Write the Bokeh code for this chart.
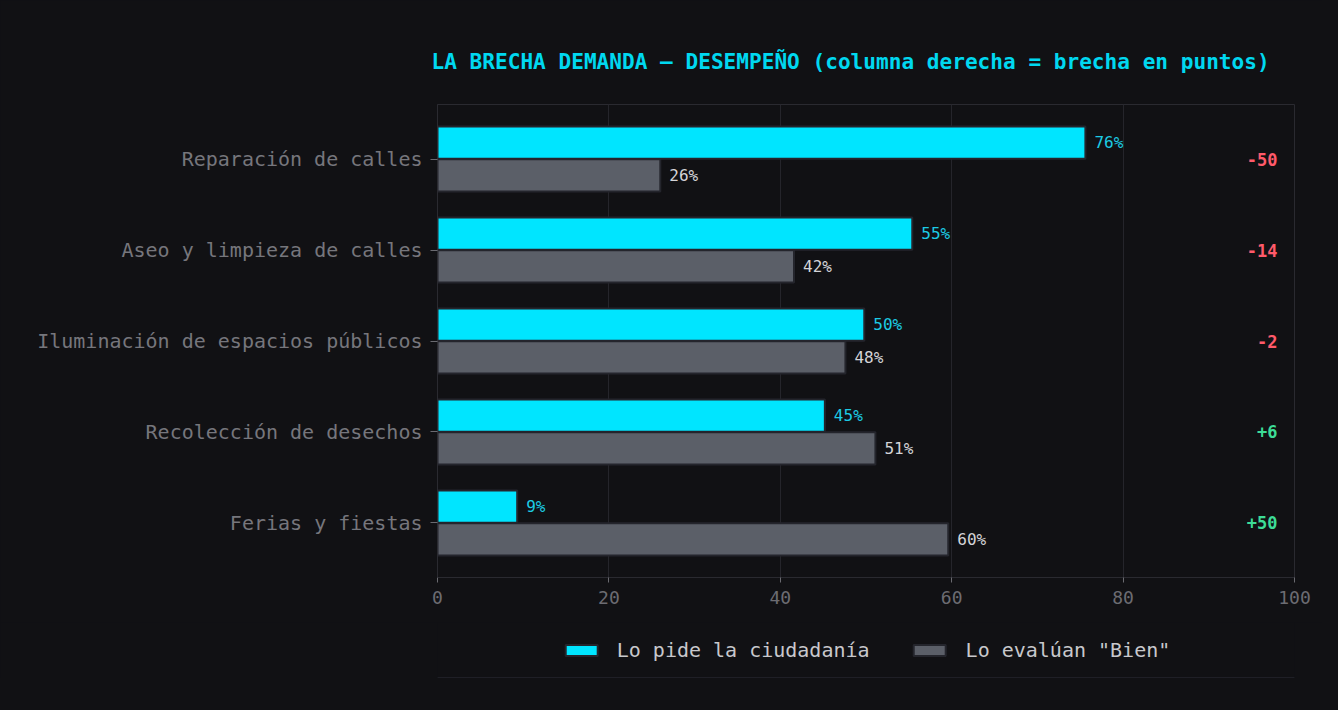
from bokeh.plotting import figure
from bokeh.layouts import column
from bokeh.models import ColumnDataSource, Range1d, FixedTicker, Legend, LegendItem
from bokeh.core.properties import value
from bokeh.embed import file_html
from bokeh.resources import INLINE

# ---- data ----
categories = ["Reparación de calles", "Aseo y limpieza de calles",
              "Iluminación de espacios públicos", "Recolección de desechos",
              "Ferias y fiestas"]
demand = [75.6, 55.4, 49.8, 45.2, 9.3]        # Lo pide la ciudadanía (%)
rated_good = [26.0, 41.6, 47.6, 51.1, 59.6]   # Lo evalúan "Bien" (%)
x_ticks = [0, 20, 40, 60, 80, 100]
series_names = ["Lo pide la ciudadanía", 'Lo evalúan "Bien"']

BG = "#111114"
CYAN = "#00e5ff"
GREY = "#5b5f68"
EDGE = "#24252c"
MONO = "DejaVu Sans Mono"

ys = list(range(len(categories)))
gaps = [g - d for g, d in zip(rated_good, demand)]
gap_text = [("+%d" % round(v)) if v > 0 else ("%d" % round(v)) for v in gaps]
gap_color = ["#3ddc97" if v > 0 else "#ff5a6a" for v in gaps]

src_d = ColumnDataSource(dict(y=[y - 0.18 for y in ys], v=demand,
                              lab=["%d%%" % round(v) for v in demand]))
src_g = ColumnDataSource(dict(y=[y + 0.18 for y in ys], v=rated_good,
                              lab=["%d%%" % round(v) for v in rated_good]))
src_gap = ColumnDataSource(dict(y=ys, t=gap_text, c=gap_color, x=[98] * len(ys)))

p = figure(frame_width=857, frame_height=473,
           x_range=Range1d(0, 100), y_range=Range1d(4.6, -0.6),
           output_backend="svg", toolbar_location=None,
           min_border_left=437, min_border_right=28, min_border_top=104, min_border_bottom=45,
           background_fill_color=BG, border_fill_color=BG, outline_line_color="#2a2a30")

r_d = p.hbar(y="y", right="v", left=0, height=0.355, source=src_d,
             fill_color=CYAN, line_color=EDGE, line_width=2)
r_g = p.hbar(y="y", right="v", left=0, height=0.355, source=src_g,
             fill_color=GREY, line_color=EDGE, line_width=2)

p.text(x="v", y="y", text="lab", source=src_d, x_offset=9, text_baseline="middle",
       text_font=value(MONO), text_font_size="16px", text_color="#1ccbe4")
p.text(x="v", y="y", text="lab", source=src_g, x_offset=9, text_baseline="middle",
       text_font=value(MONO), text_font_size="16px", text_color="#d4d4d8")
p.text(x="x", y="y", text="t", source=src_gap, text_align="right", text_baseline="middle",
       text_font=value(MONO), text_font_size="17px", text_font_style="bold", text_color="c")

# axes
p.yaxis.ticker = FixedTicker(ticks=ys)
p.yaxis.major_label_overrides = {y: c for y, c in zip(ys, categories)}
p.yaxis.major_label_text_font = MONO
p.yaxis.major_label_text_font_size = "20px"
p.yaxis.major_label_text_color = "#76767c"
p.yaxis.major_tick_out = 7
p.yaxis.major_tick_in = 0
p.yaxis.major_tick_line_color = "#6a6a70"
p.yaxis.minor_tick_line_color = None
p.yaxis.axis_line_color = "#2a2a30"
p.yaxis.major_label_standoff = 8

p.xaxis.ticker = FixedTicker(ticks=x_ticks)
p.xaxis.major_label_text_font = MONO
p.xaxis.major_label_text_font_size = "18px"
p.xaxis.major_label_text_color = "#6c6c72"
p.xaxis.major_tick_out = 5
p.xaxis.major_tick_in = 0
p.xaxis.major_tick_line_color = "#6a6a70"
p.xaxis.minor_tick_line_color = None
p.xaxis.axis_line_color = "#2a2a30"
p.xaxis.major_label_standoff = 8

p.xgrid.grid_line_color = "#25252b"
p.ygrid.grid_line_color = None

# title
p.title.text = "LA BRECHA DEMANDA – DESEMPEÑO (columna derecha = brecha en puntos)"
p.title.text_font = MONO
p.title.text_font_size = "21.1px"
p.title.text_font_style = "bold"
p.title.text_color = "#00d8f0"
p.title.align = "left"
p.title.offset = -6
p.title.standoff = 62

# legend strip below the chart (its swatch renderers sit outside the visible range)
lf = figure(width=1322, height=56, output_backend="svg", toolbar_location=None,
            x_range=Range1d(0, 1), y_range=Range1d(0, 1),
            x_axis_location=None, y_axis_location=None,
            min_border_left=409, min_border_right=0, min_border_top=0, min_border_bottom=0,
            background_fill_color=BG, border_fill_color=BG, outline_line_color=None)
lf.grid.visible = False
swatch = ColumnDataSource(dict(y=[-10], left=[0], right=[1]))
l_d = lf.hbar(y="y", left="left", right="right", height=0.5, source=swatch,
              fill_color=CYAN, line_color=EDGE, line_width=2)
l_g = lf.hbar(y="y", left="left", right="right", height=0.5, source=swatch,
              fill_color=GREY, line_color=EDGE, line_width=2)

legend = Legend(items=[LegendItem(label=series_names[0], renderers=[l_d]),
                       LegendItem(label=series_names[1], renderers=[l_g])],
                orientation="horizontal", location="center",
                background_fill_alpha=0, border_line_alpha=0,
                label_text_font=MONO, label_text_font_size="20px", label_text_color="#c8c8cc",
                glyph_width=40, glyph_height=14, label_standoff=16, spacing=40,
                margin=0, padding=4)
lf.add_layout(legend, "center")

layout = column(p, lf, spacing=0)
layout.styles = {"background": BG}

html = file_html(layout, INLINE)
html = html.replace("</head>", "<style>html,body{background:#111114;overflow:hidden;}</style></head>", 1)
open("out.html", "w").write(html)
